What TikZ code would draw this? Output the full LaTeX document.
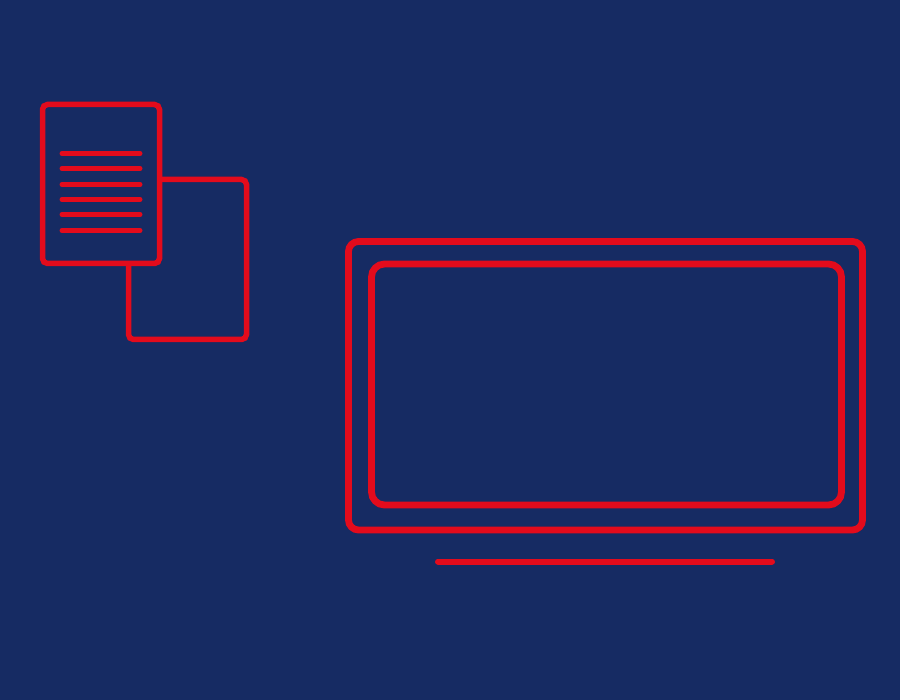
\documentclass[tikz,border=0pt]{standalone}
\definecolor{navybg}{HTML}{162B63}
\definecolor{linered}{HTML}{E30B1C}
\tikzset{
    every picture/.style = {
        x = 1pt,
        y = -1pt
    },
    outline/.style = {
        draw = linered,
        line width = 5.5pt,
        rounded corners = 5pt
    },
    screen/.style = {
        draw = linered,
        line width = 6.8pt,
        rounded corners = 10pt
    },
    textline/.style = {
        draw = linered,
        line width = 5pt,
        line cap = round
    }
}

\begin{document}
\begin{tikzpicture}
    \fill[navybg] (0,0) rectangle (900,700);
    \useasboundingbox (0,0) rectangle (900,700);
    \begin{scope}
        % pages
        \draw[outline] (128.5,179.5) rectangle (246.5,339.5);
        \draw[outline, fill=navybg] (42.5,104.5) rectangle (159.5,263.5);
        \foreach \y in {153.5,168.5,184.5,199.5,214.5,230.5} {
            \draw[textline] (62,\y) -- (140,\y);
        }
    \end{scope}
    \begin{scope}
        % monitor
        \draw[screen] (348.5,241.5) rectangle (862.5,530);
        \draw[screen, rounded corners=13pt] (371.5,264) rectangle (841.5,505);
        \draw[textline, line width=6pt] (438,561.5) -- (772,561.5);
    \end{scope}
\end{tikzpicture}
\end{document}
